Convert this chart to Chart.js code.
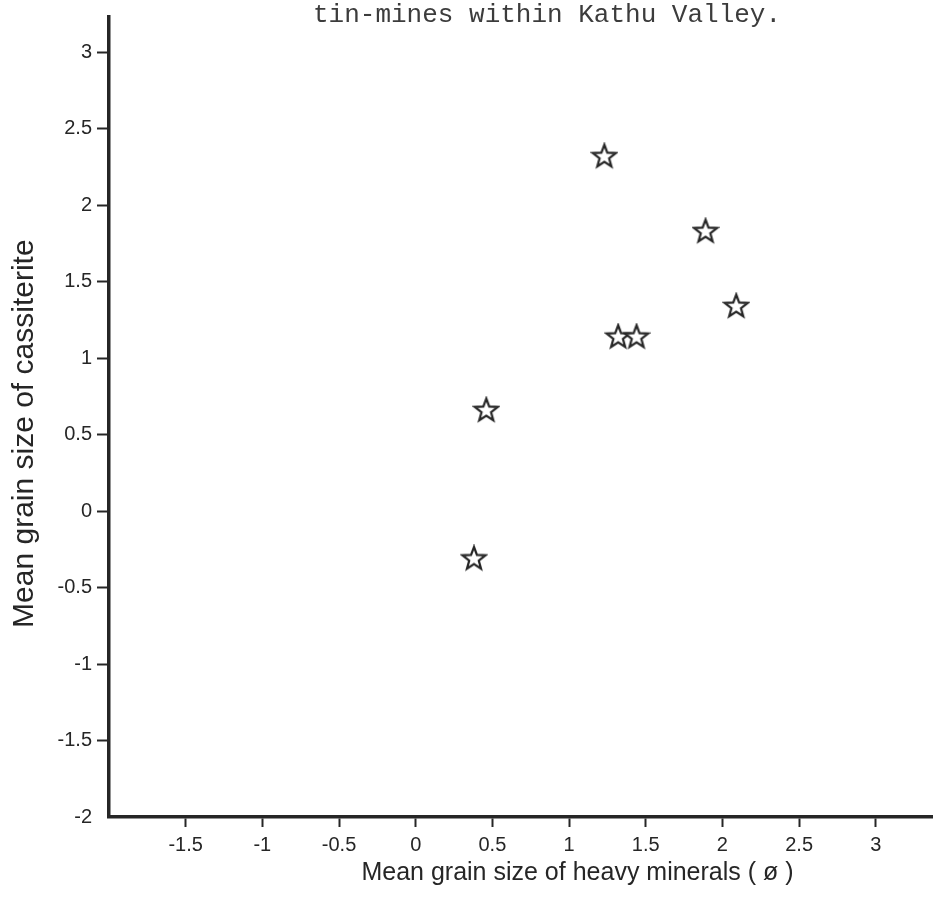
<!DOCTYPE html>
<html>
<head>
<meta charset="utf-8">
<script src="https://cdn.jsdelivr.net/npm/chart.js@4.4.1/dist/chart.umd.min.js"></script>
<style>
  html, body { margin: 0; padding: 0; background: #ffffff; overflow: hidden; }
  #wrap { width: 933px; height: 908px; overflow: hidden; }
  #chart { display: block; }
</style>
</head>
<body>
<div id="wrap"><canvas id="chart" width="1059" height="908"></canvas></div>
<script>
// Mean grain size (phi) of heavy minerals vs. cassiterite, tin-mines of Kathu Valley
const heavyMineralsPhi = [1.23, 1.89, 2.09, 1.32, 1.44, 0.46, 0.38];
const cassiteritePhi   = [2.32, 1.83, 1.34, 1.14, 1.14, 0.66, -0.31];

const xTickValues = [-1.5, -1, -0.5, 0, 0.5, 1, 1.5, 2, 2.5, 3];
const yTickValues = [-2, -1.5, -1, -0.5, 0, 0.5, 1, 1.5, 2, 2.5, 3];

const chartTitle = 'tin-mines within Kathu Valley.';
const xAxisTitle = 'Mean grain size of heavy minerals ( \u00f8 )';
const yAxisTitle = 'Mean grain size of cassiterite    ';

const INK = '#262626';
const SANS = '"Liberation Sans", Arial, sans-serif';

// Hollow five-pointed star used as the point marker
function makeStar(size, outerR, innerR, lineW) {
  const c = document.createElement('canvas');
  c.width = size; c.height = size;
  const g = c.getContext('2d');
  const cx = size / 2, cy = size / 2 + 0.5;
  g.beginPath();
  for (let i = 0; i < 10; i++) {
    const r = i % 2 === 0 ? outerR : innerR;
    const a = -Math.PI / 2 + i * Math.PI / 5;
    const px = cx + r * Math.cos(a), py = cy + r * Math.sin(a);
    if (i === 0) g.moveTo(px, py); else g.lineTo(px, py);
  }
  g.closePath();
  g.fillStyle = '#ffffff';
  g.fill();
  g.lineJoin = 'miter';
  g.lineWidth = lineW;
  g.strokeStyle = INK;
  g.stroke();
  return c;
}
const starMarker = makeStar(28, 12, 5, 2.2);

// Heading text above the plot
const headingPlugin = {
  id: 'heading',
  afterDraw(chart) {
    const ctx = chart.ctx;
    ctx.save();
    ctx.font = '26px "Liberation Mono", "DejaVu Sans Mono", monospace';
    ctx.fillStyle = '#3c3c3c';
    ctx.textAlign = 'left';
    ctx.textBaseline = 'alphabetic';
    ctx.fillText(chartTitle, 313, 22);
    ctx.restore();
  }
};

function fixedTicks(values) {
  return function (scale) {
    scale.ticks = values.map(v => ({ value: v }));
  };
}

new Chart(document.getElementById('chart'), {
  type: 'scatter',
  data: {
    datasets: [{
      label: 'Samples',
      data: heavyMineralsPhi.map((x, i) => ({ x: x, y: cassiteritePhi[i] })),
      pointStyle: starMarker,
      pointRadius: 12,
      pointHoverRadius: 12
    }]
  },
  options: {
    responsive: false,
    animation: false,
    events: [],
    layout: { padding: { left: 0, top: 15, right: 0, bottom: 0 } },
    plugins: {
      legend: { display: false },
      tooltip: { enabled: false },
      title: { display: false }
    },
    scales: {
      x: {
        type: 'linear',
        position: 'bottom',
        min: -2,
        max: 4.11,
        afterBuildTicks: fixedTicks(xTickValues),
        afterFit(scale) { scale.height = 91; },
        border: { display: true, color: INK, width: 3.5 },
        grid: {
          drawOnChartArea: false,
          drawTicks: true,
          tickLength: 10,
          tickWidth: 2,
          tickColor: INK
        },
        ticks: {
          color: INK,
          padding: 6,
          font: { family: SANS, size: 20 },
          callback: v => String(v)
        },
        title: {
          display: true,
          text: xAxisTitle,
          color: INK,
          font: { family: SANS, size: 25 },
          padding: { top: 0, bottom: 20 }
        }
      },
      y: {
        type: 'linear',
        position: 'left',
        min: -2,
        max: 3.23,
        afterBuildTicks: fixedTicks(yTickValues),
        afterFit(scale) { scale.width = 109; },
        border: { display: true, color: INK, width: 3.5 },
        grid: {
          drawOnChartArea: false,
          drawTicks: true,
          tickLength: 12,
          tickWidth: 2,
          tickColor: ctx => (ctx.tick && ctx.tick.value === -2 ? 'rgba(0,0,0,0)' : INK)
        },
        ticks: {
          color: INK,
          padding: 5,
          font: { family: SANS, size: 20 },
          callback: v => String(v)
        },
        title: {
          display: true,
          text: yAxisTitle,
          color: INK,
          font: { family: SANS, size: 30 },
          padding: { top: 7, bottom: 0 }
        }
      }
    }
  },
  plugins: [headingPlugin]
});
</script>
</body>
</html>
